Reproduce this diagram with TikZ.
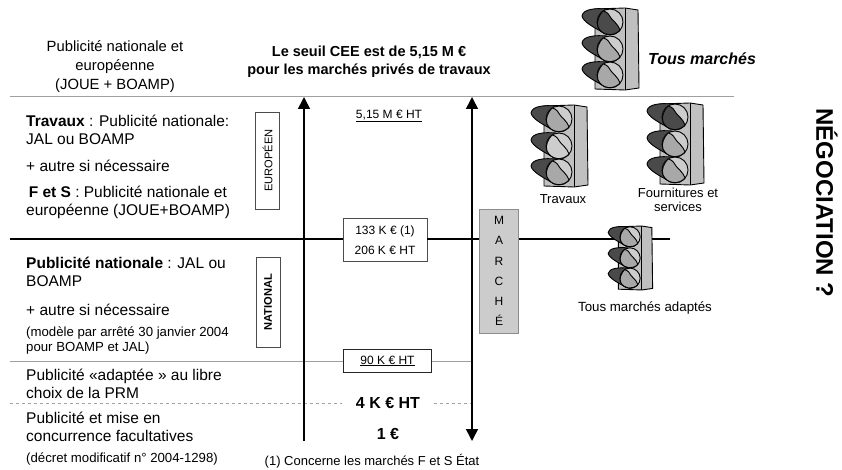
\documentclass[tikz,border=0pt]{standalone}
\usepackage{fontspec}
\setmainfont{Liberation Sans}
\usetikzlibrary{arrows.meta, positioning, calc}
\usepackage{xcolor}
\definecolor{FeuSombre}{HTML}{4A4A4A}
\definecolor{FeuMoyen}{HTML}{A8A8A8}
\definecolor{FeuClair}{HTML}{CDCDCD}
\definecolor{FeuCorps}{HTML}{C0C0C0}
\definecolor{TraitGris}{HTML}{A0A0A0}
\tikzset{
    % Text styles
    texte/.style={
        anchor=north west,
        inner sep=0pt,
        align=left,
        font=\fontsize{15.5}{18}\selectfont
    },
    petit/.style={
        anchor=north west,
        inner sep=0pt,
        align=left,
        font=\fontsize{13.2}{15}\selectfont
    },
    legende/.style={
        inner sep=0pt,
        align=center,
        font=\fontsize{13}{14}\selectfont
    },
    % Box styles
    seuil/.style={
        rectangle,
        draw=black!70,
        fill=white,
        line width=0.8pt,
        inner sep=0pt,
        align=center,
        font=\fontsize{12}{20}\selectfont
    },
    zone/.style={
        rectangle,
        draw=black!70,
        fill=white,
        line width=0.7pt,
        minimum width=24pt,
        inner sep=0pt
    },
    marche/.style={
        rectangle,
        draw=black!45,
        fill=black!20,
        line width=0.7pt,
        minimum width=39pt,
        minimum height=124pt,
        inner sep=0pt,
        align=center,
        font=\fontsize{12}{20.2}\selectfont
    },
    % Line styles
    fleche/.style={
        -{Triangle[length=12pt,width=12pt]},
        line width=1.6pt,
        draw=black
    },
    traitfort/.style={line width=2.8pt, draw=black},
    traitgris/.style={line width=1pt, draw=TraitGris},
    traittire/.style={line width=0.9pt, draw=TraitGris, dashed},
    % Traffic light, the three arguments are the lamp colours
    pics/feu/.style n args={3}{
        code={
            \draw[line width=0.9pt, fill=FeuCorps] (-15,-40) -- (15,-41) -- (28,-39) -- (29,39) -- (15,41) -- (-15,40) -- cycle;
            \draw[line width=0.9pt] (15,-41) -- (15,41);
            \foreach \ly/\lc in {-27/#1, 0/#2, 26/#3} {
                \begin{scope}[shift={(0,\ly)}]
                    \draw[line width=0.9pt, fill=FeuSombre] (-3,-13) .. controls (-15,-14) and (-27,-13) .. (-28,-6) .. controls (-27,0) and (-15,6) .. (-6,11) -- cycle;
                    \draw[line width=0.9pt, fill=FeuClair] (0,0) circle (13);
                    \draw[line width=0.9pt, fill=\lc] (-7,-11) .. controls (-2,-10) and (-1,-7) .. (1,-4) .. controls (3,-1) and (8,2) .. (10,8) .. controls (4,15) and (-8,14) .. (-12,5) .. controls (-14,0) and (-11,-7) .. (-7,-11) -- cycle;
                \end{scope}
            }
        }
    }
}
\begin{document}
\begin{tikzpicture}[x=1pt, y=-1pt]
    \useasboundingbox (0,0) rectangle (842,470);

    % Column on the left
    \node[inner sep=0pt, align=center, font=\fontsize{14.8}{19}\selectfont] (pubhaut) at (115,67) {Publicité nationale et\\européenne\\(JOUE + BOAMP)};
    \node[texte] (travaux) at (26,115) {\textbf{Travaux} : Publicité nationale:\\JAL ou BOAMP};
    \node[texte] (autre1) at (26,160) {+ autre si nécessaire};
    \node[texte] (fets) at (26,186) {\,\textbf{F et S} : Publicité nationale et\\européenne (JOUE+BOAMP)};
    \node[texte] (pubnat) at (26,257) {\textbf{Publicité nationale} : JAL ou\\BOAMP};
    \node[texte] (autre2) at (26,304) {+ autre si nécessaire};
    \node[petit] (modele) at (26,327) {(modèle par arrêté 30 janvier 2004\\pour BOAMP et JAL)};
    \node[texte] (adaptee) at (26,369) {Publicité «adaptée » au libre\\choix de la PRM};
    \node[texte] (facult) at (26,412) {Publicité et mise en\\concurrence facultatives};
    \node[petit] (decret) at (26,453) {(décret modificatif n° 2004-1298)};

    % Boxes
    \node[zone, minimum height=97pt] (europeen) at (267.5,160.5) {\rotatebox{90}{\fontsize{11.1}{13}\selectfont EUROPÉEN}};
    \node[zone, minimum height=90pt] (national) at (268,302) {\rotatebox{90}{\fontsize{11.1}{13}\selectfont\textbf{NATIONAL}}};
    \node[seuil, minimum width=84pt, minimum height=43pt] (s133) at (385,240) {133 K € (1)\\206 K € HT};
    \node[seuil, minimum width=88pt, minimum height=23pt, line width=1pt, draw=black!85] (s90) at (387.5,361) {\underline{90 K € HT}};
    \node[marche] (marche) at (499,271) {M\\A\\R\\C\\H\\É};

    % Amounts
    \node[inner sep=0pt, font=\fontsize{14.5}{18.5}\selectfont\bfseries, align=center] (titre) at (369,62) {Le seuil CEE est de 5,15 M €\\pour les marchés privés de travaux};
    \node[inner sep=0pt, font=\fontsize{12}{14}\selectfont] (s515) at (389,116) {\underline{5,15 M € HT}};
    \node[inner xsep=14pt, inner ysep=0pt, font=\fontsize{16}{18}\selectfont\bfseries] (s4) at (388,403) {4 K € HT};
    \node[inner sep=0pt, font=\fontsize{16}{18}\selectfont\bfseries] (s1) at (388,434) {1 €};
    \node[legende] (note) at (372,461) {(1) Concerne les marchés F et S État};

    % Line ends
    \coordinate (gh) at (10,97);
    \coordinate (dh) at (734,97);
    \coordinate (gf) at (10,239);
    \coordinate (df) at (670,239);
    \coordinate (gm) at (10,361);
    \coordinate (gt) at (10,403);
    \coordinate (ah) at (304,97);
    \coordinate (ab) at (304,441);
    \coordinate (bh) at (472,97);
    \coordinate (bb) at (472,441);
    \coordinate (bm) at (472,361);
    \coordinate (bt) at (472,403);

    % Lines
    \draw[traitgris] (gh) -- (dh);
    \draw[traitfort] (gf) -- (gf -| s133.west);
    \draw[traitfort] (gf -| s133.east) -- (gf -| marche.west);
    \draw[traitfort] (gf -| marche.east) -- (df);
    \draw[traitgris] (gm) -- (s90);
    \draw[traitgris] (s90) -- (bm);
    \draw[traittire] (gt) -- (s4);
    \draw[traittire] (s4) -- (bt);
    \draw[fleche] (ab) -- (ah);
    \draw[fleche, {Triangle[length=12pt,width=12pt]}-{Triangle[length=12pt,width=12pt]}] (bb) -- (bh);

    % Traffic lights
    \pic at (610,49) {feu={FeuSombre}{FeuMoyen}{FeuMoyen}};
    \pic at (559,146) {feu={FeuMoyen}{FeuClair}{FeuMoyen}};
    \pic at (675,144) {feu={FeuSombre}{FeuMoyen}{FeuMoyen}};
    \pic[scale=0.78] at (630,258) {feu={FeuMoyen}{FeuMoyen}{FeuMoyen}};

    % Captions
    \node[inner sep=0pt, font=\fontsize{16}{18}\selectfont\bfseries\itshape] (tous) at (702,59) {Tous marchés};
    \node[legende] (ltravaux) at (563,199) {Travaux};
    \node[legende] (lfourn) at (678,200) {Fournitures et\\services};
    \node[legende, font=\fontsize{13.3}{15}\selectfont] (ladaptes) at (645,308) {Tous marchés adaptés};
    \node[inner sep=0pt, font=\fontsize{24}{26}\selectfont\bfseries, rotate=-90] (nego) at (827,203) {NÉGOCIATION ?};
\end{tikzpicture}
\end{document}
